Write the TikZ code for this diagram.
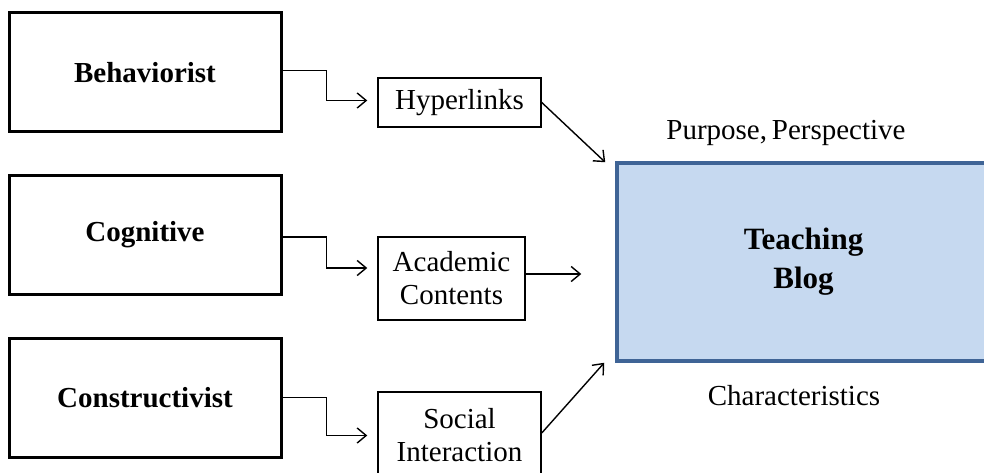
\documentclass[tikz,border=0pt]{standalone}
\usepackage{fontspec}
\setmainfont{Liberation Serif}
\usetikzlibrary{arrows.meta,calc}
\definecolor{blogfill}{HTML}{C6D9F0}
\definecolor{blogedge}{HTML}{3F6496}
\tikzset{
  theory/.style={draw=black,line width=3pt,minimum width=272pt,minimum height=119pt,inner sep=0pt,font=\fontsize{29}{33}\selectfont\bfseries},
  featbox/.style={draw=black,line width=1.5pt,inner sep=0pt,align=center,font=\fontsize{29}{33}\selectfont},
  blogbox/.style={draw=blogedge,fill=blogfill,line width=3.5pt,minimum width=373pt,minimum height=198pt,inner sep=0pt,align=center,font=\fontsize{31}{39}\selectfont\bfseries},
  lbl/.style={inner sep=0pt,font=\fontsize{29}{33}\selectfont},
  conn/.style={line width=1.4pt,-{Straight Barb[length=9pt,width=15pt,line width=1.4pt]}},
}
\begin{document}
\begin{tikzpicture}[x=1pt,y=-1pt]
\useasboundingbox (0,0) rectangle (984,473);
\node[theory] (beh) at (145,72.5) {Behaviorist};
\node[theory] (cog) at (145,235) {Cognitive};
\node[theory] (con) at (145,397.5) {Constructivist};
\node[featbox,minimum width=163pt,minimum height=49pt] (hyp) at (459.5,102.5) {Hyperlinks};
\node[featbox,minimum width=147pt,minimum height=83pt] (aca) at (451.5,278.5) {Academic\\Contents};
\node[featbox,minimum width=163pt,minimum height=86pt] (soc) at (459.5,435) {Social\\Interaction};
\node[blogbox] (tb) at (803.5,262) {Teaching\\Blog};
\node[lbl] (pp) at (786,133) {Purpose,\,Perspective};
\node[lbl] (ch) at (794,396) {Characteristics};
\coordinate (tbnw) at ($(tb.north west)+(-10,1)$);
\coordinate (tbsw) at ($(tb.south west)+(-11,0)$);
\draw[conn,shorten >=10pt] ([yshift=2pt]beh.east) -- ++(44,0) |- ([yshift=2pt]hyp.west);
\draw[conn,shorten >=10pt] ([yshift=-2pt]cog.east) -- ++(44,0) |- ([yshift=10.5pt]aca.west);
\draw[conn,shorten >=10pt] (con.east) -- ++(44,0) |- ([yshift=-0.5pt]soc.west);
\draw[conn] (hyp.east) -- (tbnw);
\draw[conn,shorten >=34pt] ([yshift=4.5pt]aca.east) -- ([yshift=4.5pt]aca.east -| tb.west);
\draw[conn] ([yshift=2pt]soc.east) -- (tbsw);
\end{tikzpicture}
\end{document}
